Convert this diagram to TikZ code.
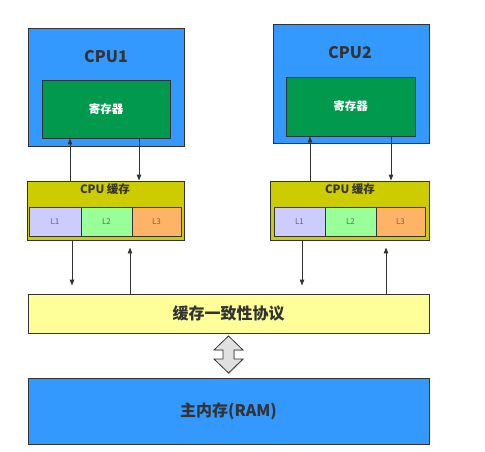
\documentclass[tikz,border=0pt]{standalone}
\usepackage{fontspec}
\setmainfont{Noto Sans CJK SC}
\usetikzlibrary{arrows.meta,shadows}
\definecolor{cpublue}{HTML}{3399FF}
\definecolor{reggreen}{HTML}{00994D}
\definecolor{cacheyel}{HTML}{CCCC00}
\definecolor{lone}{HTML}{CCCCFF}
\definecolor{ltwo}{HTML}{99FF99}
\definecolor{lthree}{HTML}{FFB366}
\definecolor{cohyel}{HTML}{FFFF99}
\definecolor{edge}{HTML}{333333}
\definecolor{dbl}{HTML}{E0E0E0}
\begin{document}
\begin{tikzpicture}[x=1pt,y=-1pt,
  box/.style={draw=edge,line width=0.9pt,inner sep=0pt,anchor=center,
    drop shadow={shadow xshift=1.2pt,shadow yshift=-1.2pt,fill=black!30,opacity=0.6}},
  cell/.style={draw=edge,line width=0.9pt,inner sep=0pt,anchor=center,
    font=\fontsize{8}{9}\selectfont,text=black!60},
  bigtxt/.style={font=\bfseries\fontsize{16}{18}\selectfont,text=edge},
  midtxt/.style={font=\bfseries\fontsize{11.5}{13}\selectfont,text=edge},
  regtxt/.style={font=\bfseries\fontsize{11.5}{13}\selectfont,text=white},
  arr/.style={draw=edge,line width=0.9pt,-{Triangle[length=6pt,width=4.5pt]}}]
\useasboundingbox (0,0) rectangle (485,451);
% CPU1
\node[box,fill=cpublue,minimum width=156pt,minimum height=118pt] (cpu1) at (106,87) {};
\node[bigtxt] (cpu1t) at (106,57) {CPU1};
\node[box,fill=reggreen,minimum width=128pt,minimum height=58pt,regtxt] (reg1) at (106,109) {寄存器};
% CPU2
\node[box,fill=cpublue,minimum width=156pt,minimum height=119pt] (cpu2) at (351,83.5) {};
\node[bigtxt] (cpu2t) at (350,53) {CPU2};
\node[box,fill=reggreen,minimum width=129pt,minimum height=59pt,regtxt] (reg2) at (350.5,106.5) {寄存器};
% caches
\node[box,fill=cacheyel,minimum width=157pt,minimum height=59pt] (cache1) at (105.5,210.5) {};
\node[midtxt] (cache1t) at (105,189) {CPU 缓存};
\node[cell,fill=lone,minimum width=52pt,minimum height=29pt] (c1a) at (55,221.5) {L1};
\node[cell,fill=ltwo,minimum width=51pt,minimum height=29pt] (c1b) at (106.5,221.5) {L2};
\node[cell,fill=lthree,minimum width=49pt,minimum height=29pt] (c1c) at (156.5,221.5) {L3};
\node[box,fill=cacheyel,minimum width=159pt,minimum height=59pt] (cache2) at (349.5,210.5) {};
\node[midtxt] (cache2t) at (350,189) {CPU 缓存};
\node[cell,fill=lone,minimum width=51pt,minimum height=29pt] (c2a) at (299.5,221.5) {L1};
\node[cell,fill=ltwo,minimum width=51pt,minimum height=29pt] (c2b) at (350.5,221.5) {L2};
\node[cell,fill=lthree,minimum width=49pt,minimum height=29pt] (c2c) at (400.5,221.5) {L3};
% coherence and RAM
\node[box,fill=cohyel,minimum width=401pt,minimum height=39pt,bigtxt] (coh) at (228.5,313.5) {缓存一致性协议};
\node[box,fill=cpublue,minimum width=401pt,minimum height=66pt,bigtxt] (ram) at (228.5,411) {主内存(RAM)};
% double arrow
\draw[draw=edge,line width=0.8pt,fill=dbl,
  drop shadow={shadow xshift=1pt,shadow yshift=-1pt,fill=black!30,opacity=0.5}]
  (228.5,336) -- (243,350) -- (234,350) -- (234,359) -- (243,359) -- (228.5,373)
  -- (214,359) -- (223,359) -- (223,350) -- (214,350) -- cycle;
% arrow x positions
\coordinate (xa) at (70,0);
\coordinate (xb) at (139,0);
\coordinate (xc) at (72,0);
\coordinate (xd) at (130,0);
\coordinate (xe) at (310,0);
\coordinate (xf) at (391,0);
\coordinate (xg) at (302,0);
\coordinate (xh) at (386,0);
\draw[arr] (cache1.north -| xa) -- (reg1.south -| xa);
\draw[arr] (reg1.south -| xb) -- (cache1.north -| xb);
\draw[arr,shorten >=8pt] (cache1.south -| xc) -- (coh.north -| xc);
\draw[arr,shorten >=7pt] (coh.north -| xd) -- (cache1.south -| xd);
\draw[arr] (cache2.north -| xe) -- (reg2.south -| xe);
\draw[arr] (reg2.south -| xf) -- (cache2.north -| xf);
\draw[arr,shorten >=8pt] (cache2.south -| xg) -- (coh.north -| xg);
\draw[arr,shorten >=7pt] (coh.north -| xh) -- (cache2.south -| xh);
\end{tikzpicture}
\end{document}
